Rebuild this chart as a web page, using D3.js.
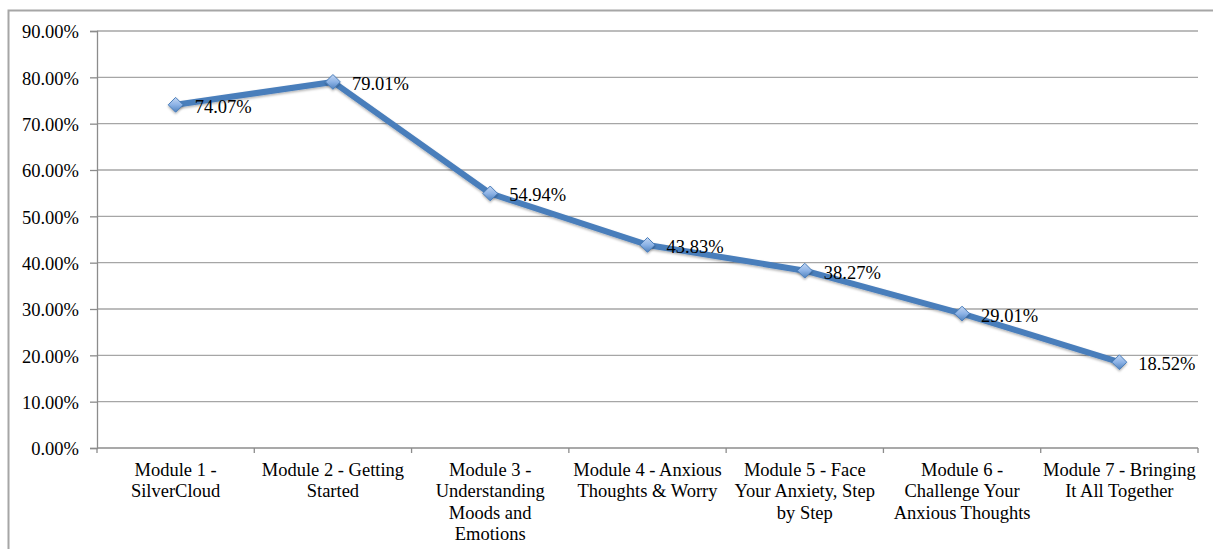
<!DOCTYPE html>
<html><head><meta charset="utf-8">
<script src="https://cdn.jsdelivr.net/npm/d3@7/dist/d3.min.js"></script>
<style>
html,body{margin:0;padding:0;background:#fff;}
svg{display:block;}
text{font-family:"Liberation Serif","Times New Roman",serif;fill:#000;}
</style></head>
<body>
<svg id="chart" width="1213" height="549"></svg>
<script>
const categories = [
  "Module 1 - SilverCloud",
  "Module 2 - Getting Started",
  "Module 3 - Understanding Moods and Emotions",
  "Module 4 - Anxious Thoughts & Worry",
  "Module 5 - Face Your Anxiety, Step by Step",
  "Module 6 - Challenge Your Anxious Thoughts",
  "Module 7 - Bringing It All Together"
];
const categoryLines = [
  ["Module 1 -", "SilverCloud"],
  ["Module 2 - Getting", "Started"],
  ["Module 3 -", "Understanding", "Moods and", "Emotions"],
  ["Module 4 - Anxious", "Thoughts & Worry"],
  ["Module 5 - Face", "Your Anxiety, Step", "by Step"],
  ["Module 6 -", "Challenge Your", "Anxious Thoughts"],
  ["Module 7 - Bringing", "It All Together"]
];
const values = [74.07, 79.01, 54.94, 43.83, 38.27, 29.01, 18.52];
const yTicks = [0, 10, 20, 30, 40, 50, 60, 70, 80, 90];

const svg = d3.select("#chart");
const M = {left: 97, right: 1198, top: 31, bottom: 448};

// outer chart border (left and top visible)
svg.append("path")
  .attr("d", "M8.5,549 L8.5,10.5 L1213,10.5")
  .attr("fill", "none").attr("stroke", "#a6a6a6").attr("stroke-width", 2);

const x = d3.scaleBand().domain(categories).range([M.left, M.right]).padding(0);
const y = d3.scaleLinear().domain([0, 90]).range([M.bottom, M.top]);

// gridlines
svg.append("g").selectAll("line").data(yTicks.filter(d => d > 0)).join("line")
  .attr("x1", M.left).attr("x2", M.right)
  .attr("y1", d => y(d)).attr("y2", d => y(d))
  .attr("stroke", "#a6a6a6").attr("stroke-width", 1.4);

// y axis
const yAxis = svg.append("g").attr("transform", `translate(${M.left},0)`)
  .call(d3.axisLeft(y).tickValues(yTicks).tickSize(7).tickPadding(11)
    .tickFormat(d => d.toFixed(2) + "%"));
yAxis.selectAll("path,line").attr("stroke", "#8c8c8c").attr("stroke-width", 1.3);
yAxis.selectAll("text").style("font-size", "18.5px").attr("dy", "0.36em").attr("fill", "#000");

// x axis
const xAxis = svg.append("g").attr("transform", `translate(0,${M.bottom})`)
  .call(d3.axisBottom(x).tickSize(0).tickFormat(""));
xAxis.select("path").attr("stroke", "#8c8c8c").attr("stroke-width", 1.3).attr("d", `M${M.left},0H${M.right}`);
const bounds = categories.map(c => x(c)).concat([M.right]);
xAxis.append("g").selectAll("line").data(bounds).join("line")
  .attr("x1", d => d).attr("x2", d => d).attr("y1", 0).attr("y2", 5)
  .attr("stroke", "#8c8c8c").attr("stroke-width", 1.3);

const lab = svg.append("g");
categories.forEach((c, i) => {
  const t = lab.append("text")
    .attr("x", x(c) + x.bandwidth() / 2)
    .attr("y", M.bottom + 28)
    .attr("text-anchor", "middle")
    .style("font-size", "18.5px");
  categoryLines[i].forEach((ln, j) => {
    t.append("tspan").attr("x", x(c) + x.bandwidth() / 2)
      .attr("dy", j === 0 ? 0 : 21.3).text(ln);
  });
});

// gradient + shadow for markers
const defs = svg.append("defs");
const g = defs.append("linearGradient").attr("id", "mk").attr("x1", 0).attr("y1", 0).attr("x2", 0).attr("y2", 1);
g.append("stop").attr("offset", "0%").attr("stop-color", "#c3d6f2");
g.append("stop").attr("offset", "50%").attr("stop-color", "#8db3e6");
g.append("stop").attr("offset", "100%").attr("stop-color", "#4f81bd");
const f = defs.append("filter").attr("id", "sh").attr("x", "-50%").attr("y", "-50%").attr("width", "200%").attr("height", "200%");
f.append("feDropShadow").attr("dx", 0).attr("dy", 1.5).attr("stdDeviation", 1.2).attr("flood-color", "#000").attr("flood-opacity", 0.3);

const cx = (d, i) => x(categories[i]) + x.bandwidth() / 2;

// line
const line = d3.line().x((d, i) => cx(d, i)).y(d => y(d));
svg.append("path").datum(values)
  .attr("d", line).attr("fill", "none")
  .attr("stroke", "#4a7ebb").attr("stroke-width", 6)
  .attr("stroke-linejoin", "round").attr("stroke-linecap", "round")
  .attr("filter", "url(#sh)");

// markers
const sym = d3.symbol().type(d3.symbolDiamond2).size(140);
svg.append("g").selectAll("path").data(values).join("path")
  .attr("transform", (d, i) => `translate(${cx(d, i)},${y(d)}) rotate(0)`)
  .attr("d", sym)
  .attr("fill", "url(#mk)").attr("stroke", "#4a7ebb").attr("stroke-width", 1)
  .attr("filter", "url(#sh)");

// data labels
svg.append("g").selectAll("text").data(values).join("text")
  .attr("x", (d, i) => cx(d, i) + 19)
  .attr("y", d => y(d) + 8)
  .style("font-size", "18.5px")
  .text(d => d.toFixed(2) + "%");
</script>
</body></html>
